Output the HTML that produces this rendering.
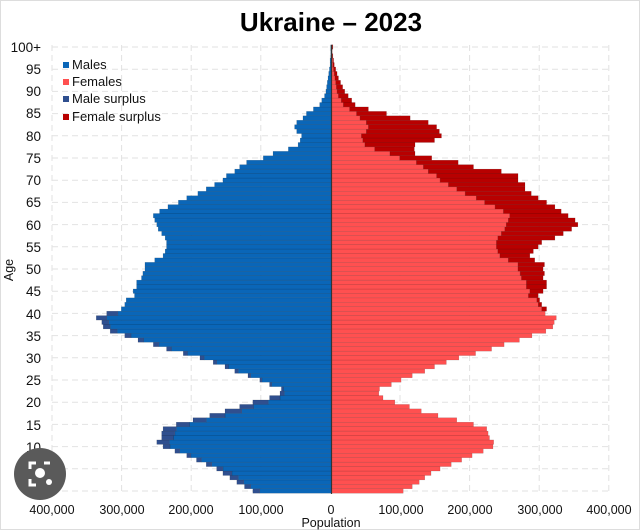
<!DOCTYPE html>
<html><head><meta charset="utf-8"><style>
html,body{margin:0;padding:0;background:#fff;}
svg{display:block;font-family:"Liberation Sans",Arial,sans-serif;}
</style></head><body>
<svg id="s" width="640" height="530" viewBox="0 0 640 530" xmlns="http://www.w3.org/2000/svg">
<rect width="640" height="530" fill="#fff"/>
<rect x="0.5" y="0.5" width="639" height="529" fill="none" stroke="#ddd"/>
<g id="grid" stroke="#e2e2e2" stroke-dasharray="6,4" stroke-width="1"></g>
<g id="bars"></g>
<line x1="331.5" y1="45" x2="331.5" y2="494" stroke="#333" stroke-width="1.2"/>
<text x="331" y="31" font-size="26" font-weight="bold" text-anchor="middle" fill="#000">Ukraine – 2023</text>
<g font-size="13.5" fill="#111" text-anchor="end">
<text x="41" y="52">100+</text><text x="41" y="74">95</text><text x="41" y="96">90</text><text x="41" y="118">85</text><text x="41" y="141">80</text><text x="41" y="163">75</text><text x="41" y="185">70</text><text x="41" y="207">65</text><text x="41" y="230">60</text><text x="41" y="252">55</text><text x="41" y="274">50</text><text x="41" y="296">45</text><text x="41" y="319">40</text><text x="41" y="341">35</text><text x="41" y="363">30</text><text x="41" y="385">25</text><text x="41" y="407">20</text><text x="41" y="430">15</text><text x="41" y="452">10</text><text x="41" y="474">5</text><text x="41" y="496">0</text>
</g>
<g font-size="12.5" fill="#111" text-anchor="middle">
<text x="52" y="514">400,000</text><text x="122" y="514">300,000</text><text x="191" y="514">200,000</text><text x="261" y="514">100,000</text><text x="331" y="514">0</text><text x="401" y="514">100,000</text><text x="470" y="514">200,000</text><text x="540" y="514">300,000</text><text x="609" y="514">400,000</text>
<text x="331" y="527">Population</text>
</g>
<text transform="translate(13,270) rotate(-90)" font-size="12.5" text-anchor="middle" fill="#111">Age</text>
<g font-size="13" fill="#111">
<rect x="63" y="62" width="6" height="6" fill="#0a66b8"/><text x="72" y="69">Males</text>
<rect x="63" y="79" width="6" height="6" fill="#ff5050"/><text x="72" y="86">Females</text>
<rect x="63" y="96" width="6" height="6" fill="#2f4f8f"/><text x="72" y="103">Male surplus</text>
<rect x="63" y="114" width="6" height="6" fill="#b80000"/><text x="72" y="121">Female surplus</text>
</g>
<circle cx="40" cy="474" r="26" fill="#5a5a5a"/>
<path d="M30 469 v-6 h6 M50 463 h-6 M30 479 v6 h6" stroke="#fff" stroke-width="3" fill="none"/>
<circle cx="40" cy="473" r="5" fill="#fff"/><circle cx="49" cy="482" r="3" fill="#fff"/>
</svg>
<script>
var M=[113,125,136,146,156,165,180,194,208,225,242,251,244,244,242,223,199,175,153,132,113,89,74,72,89,103,120,139,153,170,189,213,237,256,278,297,318,328,330,338,323,302,297,295,283,285,280,280,273,271,268,268,254,242,239,237,237,239,244,249,251,254,256,247,235,220,208,192,180,168,156,151,139,132,122,98,84,62,48,45,43,50,53,50,41,36,26,17,14,10,8,7,6,5,4,3,2,2,1,1,1];
var F=[103,116,126,134,143,156,172,187,208,225,232,233,227,225,223,204,180,153,129,112,91,74,68,69,89,103,120,134,153,175,199,223,244,268,290,311,326,326,335,323,307,309,302,299,297,304,309,309,304,306,304,306,292,285,290,297,302,321,333,345,354,350,340,330,321,309,297,287,278,278,268,268,244,204,182,144,120,119,120,148,158,155,151,139,113,79,53,34,29,24,19,16,13,10,8,6,4,3,2,1,2];
for(var a=0;a<=38;a++){ if(F[a]>M[a]*0.97) F[a]=Math.round(M[a]*0.97); }
var NS="http://www.w3.org/2000/svg",b=document.getElementById('bars'),g=document.getElementById('grid');
function r(x,y,w,h,c){var e=document.createElementNS(NS,'rect');e.setAttribute('x',x);e.setAttribute('y',y);e.setAttribute('width',Math.max(w,0));e.setAttribute('height',h);e.setAttribute('fill',c);e.setAttribute('stroke','rgba(0,0,0,0.25)');e.setAttribute('stroke-width','0.4');b.appendChild(e);}
function l(x1,y1,x2,y2){var e=document.createElementNS(NS,'line');e.setAttribute('x1',x1);e.setAttribute('y1',y1);e.setAttribute('x2',x2);e.setAttribute('y2',y2);g.appendChild(e);}
for(var i=0;i<9;i++){var x=52+i*69.6;l(x,45,x,494);}
for(var a=0;a<=100;a+=5){var y=491-4.44*a;l(52,y,609,y);}
var C=331.5,k=0.696,h=4.44;
for(var a=0;a<=100;a++){var y=491-h*a-h/2,m=M[a]*k,f=F[a]*k,mn=Math.min(m,f);
r(C-mn,y,mn,h,'#0a66b8');if(m>f)r(C-m,y,m-f,h,'#2f4f8f');
r(C,y,mn,h,'#ff5050');if(f>m)r(C+m,y,f-m,h,'#b80000');}
</script>
</body></html>
